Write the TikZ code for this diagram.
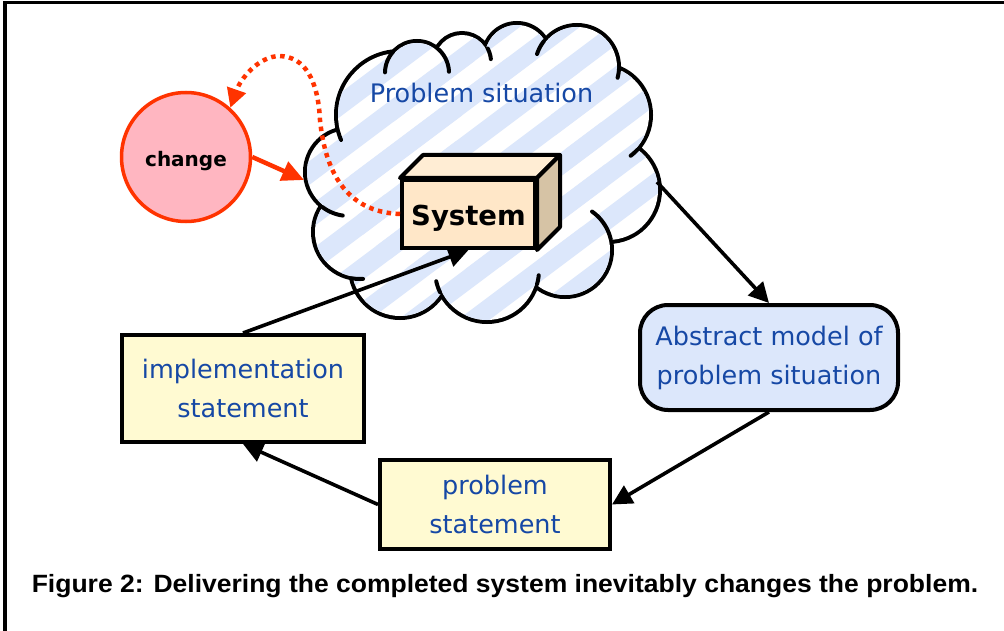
\documentclass[tikz,border=0pt]{standalone}
\usepackage{fontspec}
\usepackage{graphicx}
\setmainfont{DejaVu Sans}
\newfontfamily\capfont{Liberation Sans}
\usetikzlibrary{arrows.meta,calc}
\definecolor{stripeblue}{RGB}{220,231,251}
\definecolor{absblue}{RGB}{220,231,251}
\definecolor{textblue}{RGB}{22,72,165}
\definecolor{boxyellow}{RGB}{255,250,210}
\definecolor{pinkfill}{RGB}{255,182,193}
\definecolor{redline}{RGB}{255,51,0}
\definecolor{sysfront}{RGB}{255,231,200}
\definecolor{systop}{RGB}{255,237,212}
\definecolor{sysside}{RGB}{214,195,165}
% tick at the junction of circle (#1,#2,#3) with circle (#4,#5,#6)
\newcommand\cloudtick[8]{%
  \pgfmathsetmacro\ctD{veclen(#4-#1,#5-#2)}%
  \pgfmathsetmacro\ctC{(\ctD*\ctD+#3*#3-#6*#6)/(2*\ctD*#3)}%
  \pgfmathsetmacro\ctA{acos(\ctC)}%
  \pgfmathsetmacro\ctB{atan2(#5-#2,#4-#1)}%
  \pgfmathsetmacro\ctT{\ctB+#7*\ctA}%
  \pgfmathsetmacro\ctU{\ctT-#7*#8}%
  \pgfmathsetmacro\ctLo{min(\ctT,\ctU)}%
  \pgfmathsetmacro\ctHi{max(\ctT,\ctU)}%
  \draw[line width=4pt,line cap=round] plot[domain=\ctLo:\ctHi,samples=16]
    ({#1+(#3+2)*cos(\x)},{#2+(#3+2)*sin(\x)});%
}
\def\cloudlist{400/115/62,417/73/30,462/62/27,517/57/32,577/67/40,600/115/49,608/190/50,565/250/45,487/270/50,400/268/48,360/232/45,349/172/42}
\begin{document}
\begin{tikzpicture}[x=1pt,y=-1pt,
  conn/.style={line width=3.6pt,-{Triangle[length=20pt,width=20pt]}},
  redarrow/.style={line width=4.5pt,draw=redline,-{Triangle[length=22pt,width=20pt]},redline},
  reddot/.style={line width=4.5pt,draw=redline,dash pattern=on 4.5pt off 4.5pt,-{Triangle[length=19pt,width=19pt]},redline},
  bluefont/.style={font=\fontsize{25.5}{39}\selectfont,text=textblue},
  yellowbox/.style={draw,line width=4pt,fill=boxyellow,inner sep=0pt,align=center,bluefont},
  stripe/.style={draw=stripeblue,line width=19pt}]
\useasboundingbox (0,0) rectangle (1004,631);
\fill[white] (0,0) rectangle (1004,631);
\draw[line width=3.5pt] (5,631) -- (5,2.5) -- (1004,2.5);

% ---- cloud ----
\draw[line width=8pt] foreach \cx/\cy/\r in \cloudlist {(\cx,\cy) circle[radius=\r pt]};
\fill[white] foreach \cx/\cy/\r in \cloudlist {(\cx,\cy) circle[radius=\r pt]};
\fill[white] (400,115) -- (417,73) -- (462,62) -- (517,57) -- (577,67) -- (600,115) -- (608,190) -- (565,250) -- (487,270) -- (400,268) -- (360,232) -- (349,172) -- cycle;
\begin{scope}
  \clip foreach \cx/\cy/\r in \cloudlist {(\cx,\cy) circle[radius=\r pt]};
  \foreach \k in {-240,-180,...,720} \draw[stripe] (\k,360) -- ++(480,-360);
\end{scope}
\begin{scope}
  \clip (400,115) -- (417,73) -- (462,62) -- (517,57) -- (577,67) -- (600,115) -- (608,190) -- (565,250) -- (487,270) -- (400,268) -- (360,232) -- (349,172) -- cycle;
  \foreach \k in {-240,-180,...,720} \draw[stripe] (\k,360) -- ++(480,-360);
\end{scope}
\cloudtick{400}{115}{62}{349}{172}{42}{1}{8}
\cloudtick{417}{73}{30}{400}{115}{62}{1}{40}
\cloudtick{417}{73}{30}{462}{62}{27}{-1}{45}
\cloudtick{462}{62}{27}{517}{57}{32}{-1}{22}
\cloudtick{577}{67}{40}{517}{57}{32}{1}{20}
\cloudtick{577}{67}{40}{600}{115}{49}{-1}{12}
\cloudtick{600}{115}{49}{608}{190}{50}{-1}{10}
\cloudtick{565}{250}{45}{608}{190}{50}{1}{42}
\cloudtick{487}{270}{50}{565}{250}{45}{1}{10}
\cloudtick{487}{270}{50}{400}{268}{48}{-1}{13}
\cloudtick{360}{232}{45}{400}{268}{48}{1}{13}
\cloudtick{349}{172}{42}{360}{232}{45}{1}{29}
\coordinate (cloudL) at (304,180);
\coordinate (cloudR) at (657,182);
\node[bluefont,anchor=base] (ptitle) at (481.5,103) {Problem situation};

% ---- system box ----
\node[draw,line width=4pt,fill=sysfront,minimum width=133pt,minimum height=68pt,inner sep=0pt,
      font=\bfseries\fontsize{27.5}{32}\selectfont] (sys) at (468.5,214) {\raisebox{-12pt}[0pt][0pt]{System}};
\filldraw[fill=systop,line width=4pt,line join=round] (sys.north west) -- ($(sys.north west)+(23,-23)$) -- ($(sys.north east)+(23,-23)$) -- (sys.north east) -- cycle;
\filldraw[fill=sysside,line width=4pt,line join=round] (sys.north east) -- ($(sys.north east)+(23,-23)$) -- ($(sys.south east)+(23,-23)$) -- (sys.south east) -- cycle;

% ---- change ----
\node[circle,draw=redline,line width=3.5pt,fill=pinkfill,minimum size=129pt,inner sep=0pt,
      font=\bfseries\fontsize{20}{24}\selectfont] (change) at (186,157) {\raisebox{-10pt}[0pt][0pt]{change}};

% ---- boxes ----
\node[yellowbox,minimum width=242pt,minimum height=107pt] (impl) at (243,388.5) {implementation\\statement};
\node[yellowbox,minimum width=230pt,minimum height=89pt] (prob) at (495,504.5) {problem\\statement};
\node[draw,line width=4pt,fill=absblue,rounded corners=28pt,inner sep=0pt,align=center,bluefont,
      minimum width=258pt,minimum height=105pt] (abs) at (769,357.5) {Abstract model of\\problem situation};

% ---- connectors ----
\draw[conn] (cloudR) -- (abs.north);
\draw[conn] (abs.south) -- (prob.east);
\draw[conn] (prob.west) -- (impl.south);
\draw[conn] (impl.north) -- (sys.south);
\draw[redarrow] (change.east) -- (cloudL);
\draw[reddot] (sys.west) .. controls (345,212) and (325,170) .. (320,120)
   .. controls (318,80) and (305,57) .. (280,56)
   .. controls (258,56) and (240,80) .. (change.48);

% ---- caption ----
\node[font=\capfont\bfseries\fontsize{25}{30}\selectfont,anchor=base,inner sep=0pt] (cap) at (505,592)
  {\scalebox{1.06}[1]{Figure 2: Delivering the completed system inevitably changes the problem.}};
\end{tikzpicture}
\end{document}
